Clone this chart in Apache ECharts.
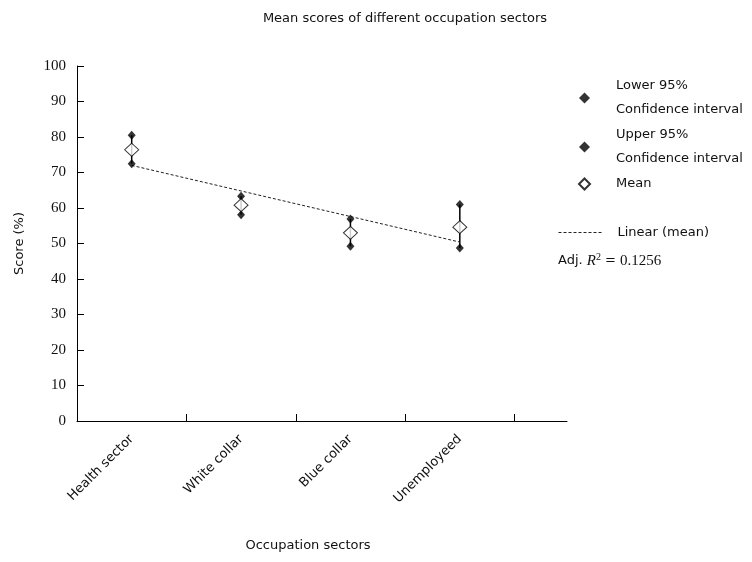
<!DOCTYPE html>
<html>
<head>
<meta charset="utf-8">
<script src="https://cdn.jsdelivr.net/npm/echarts@6/dist/echarts.min.js"></script>
<style>html,body{margin:0;padding:0;background:#fff}#c{width:752px;height:562px}</style>
</head>
<body>
<div id="c"></div>
<script>
var categories = ['Health sector', 'White collar', 'Blue collar', 'Unemployeed'];
var lowerCI = [72.5, 58.1, 49.2, 48.7];
var upperCI = [80.5, 63.3, 56.9, 61.0];
var meanScore = [76.4, 60.8, 53.0, 54.6];
var trendEnds = [72.0, 50.4];
var yTicks = [0, 10, 20, 30, 40, 50, 60, 70, 80, 90, 100];
var adjR2 = '0.1256';

var SANS = 'DejaVu Sans';
var SERIF = 'Liberation Serif';

function pos(i) { return i + 0.5; }
var lowData = lowerCI.map(function (v, i) { return [pos(i), v]; });
var upData = upperCI.map(function (v, i) { return [pos(i), v]; });
var meanData = meanScore.map(function (v, i) { return [pos(i), v]; });
var barData = categories.map(function (c, i) { return [pos(i), lowerCI[i], upperCI[i]]; });
var trendData = [[pos(0), trendEnds[0]], [pos(categories.length - 1), trendEnds[1]]];

var chart = echarts.init(document.getElementById('c'), null, {renderer: 'canvas'});
chart.setOption({
  animation: false,
  backgroundColor: '#fff',
  title: [{
    text: 'Mean scores of different occupation sectors',
    left: 400, top: 7, textAlign: 'center',
    textStyle: {fontFamily: SANS, fontSize: 13, fontWeight: 'normal', color: '#111'}
  }, {
    text: '{a|Adj. }{r|R}{s|2}{a| = }{n|' + adjR2 + '}',
    left: 553, top: 247,
    textStyle: {
      fontWeight: 'normal',
      rich: {
        a: {fontFamily: SANS, fontSize: 13, fontWeight: 'normal', color: '#111'},
        r: {fontFamily: SERIF, fontStyle: 'italic', fontWeight: 'normal', fontSize: 15, color: '#111'},
        s: {fontFamily: SERIF, fontSize: 10, fontWeight: 'normal', color: '#111', verticalAlign: 'top', padding: [0, 0, 8, 0]},
        n: {fontFamily: SERIF, fontSize: 15, fontWeight: 'normal', color: '#111'}
      }
    }
  }],
  legend: [{
    data: ['Lower 95%\nConfidence interval', 'Upper 95%\nConfidence interval', 'Mean'],
    orient: 'vertical',
    left: 573, top: 69,
    itemWidth: 11, itemHeight: 11, itemGap: 1,
    textStyle: {fontFamily: SANS, fontSize: 13, color: '#111', lineHeight: 24, padding: [0, 0, 0, 21]},
    selectedMode: false
  }, {
    data: [{name: 'Linear (mean)', itemStyle: {opacity: 0}}],
    orient: 'vertical',
    left: 553, top: 221,
    itemWidth: 45, itemHeight: 10,
    textStyle: {fontFamily: SANS, fontSize: 13, color: '#111', padding: [0, 0, 0, 9]},
    lineStyle: {color: '#222', width: 1, type: [3, 2], opacity: 1},
    selectedMode: false
  }],
  grid: {left: 77, top: 66, width: 490, bottom: 141, containLabel: false},
  xAxis: {
    type: 'value', min: 0, max: 4.48,
    name: 'Occupation sectors', nameLocation: 'middle', nameGap: 118,
    nameTextStyle: {fontFamily: SANS, fontSize: 13, color: '#111', padding: [0, 28, 0, 0]},
    axisLine: {show: true, lineStyle: {color: '#000', width: 1}},
    axisTick: {show: true, inside: true, length: 7, lineStyle: {color: '#000'}, customValues: [1, 2, 3, 4]},
    axisLabel: {
      customValues: categories.map(function (c, i) { return pos(i); }),
      rotate: 45, margin: 16,
      fontFamily: SANS, fontSize: 13, color: '#111',
      formatter: function (v) { return categories[Math.round(v - 0.5)] || ''; }
    },
    splitLine: {show: false}
  },
  yAxis: {
    type: 'value', min: 0, max: 100, interval: 10,
    name: 'Score (%)', nameLocation: 'middle', nameGap: 51,
    nameTextStyle: {fontFamily: SANS, fontSize: 13, color: '#111'},
    axisLine: {show: true, lineStyle: {color: '#000', width: 1}},
    axisTick: {show: true, inside: true, length: 7, lineStyle: {color: '#000'}},
    axisLabel: {
      fontFamily: SERIF, fontSize: 15, color: '#111', margin: 11,
      formatter: function (v) { return yTicks.indexOf(v) >= 0 ? String(v) : ''; }
    },
    splitLine: {show: false}
  },
  series: [{
    type: 'custom', name: 'bars', z: 1,
    data: barData,
    renderItem: function (params, api) {
      var a = api.coord([api.value(0), api.value(1)]);
      var b = api.coord([api.value(0), api.value(2)]);
      return {type: 'line', shape: {x1: a[0], y1: a[1], x2: b[0], y2: b[1]},
        style: {stroke: '#000', lineWidth: 1.5}};
    },
    encode: {x: 0, y: [1, 2]},
    silent: true
  }, {
    type: 'scatter', name: 'Lower 95%\nConfidence interval', z: 3,
    data: lowData, symbol: 'diamond', symbolSize: [8, 9],
    itemStyle: {color: '#000'}
  }, {
    type: 'scatter', name: 'Upper 95%\nConfidence interval', z: 3,
    data: upData, symbol: 'diamond', symbolSize: [8, 9],
    itemStyle: {color: '#000'}
  }, {
    type: 'scatter', name: 'Mean', z: 4,
    data: meanData, symbol: 'diamond', symbolSize: [14, 13],
    itemStyle: {color: '#fff', borderColor: '#000', borderWidth: 1}
  }, {
    type: 'line', name: 'Linear (mean)', z: 2,
    data: trendData, symbol: 'none',
    lineStyle: {color: '#222', width: 1, type: [3, 2]}
  }]
});
</script>
</body>
</html>
